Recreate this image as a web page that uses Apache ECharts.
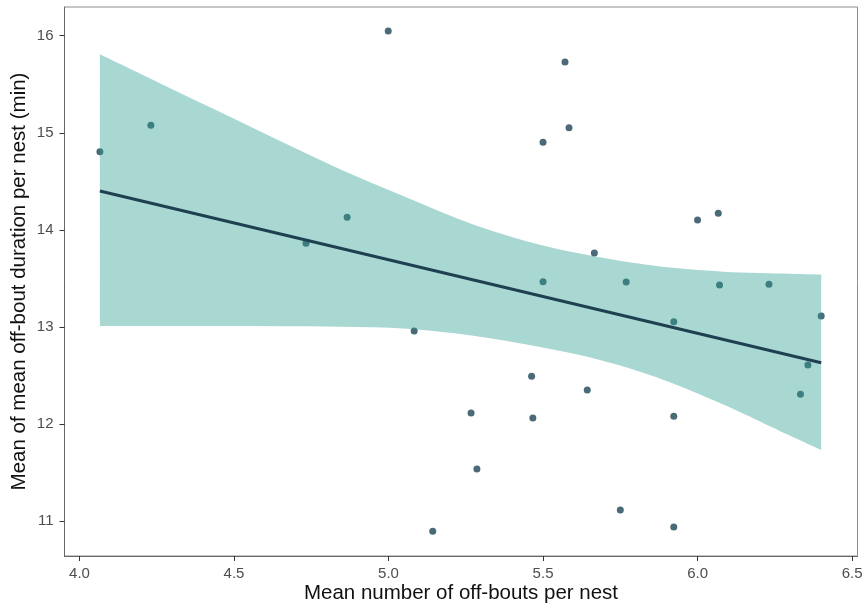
<!DOCTYPE html>
<html>
<head>
<meta charset="utf-8">
<script src="https://cdn.jsdelivr.net/npm/echarts@6/dist/echarts.min.js"></script>
<style>
  html, body { margin: 0; padding: 0; background: #fff; }
  #chart { width: 866px; height: 609px; }
</style>
</head>
<body>
<div id="chart"></div>
<script>
// nests: mean off-bouts vs mean off-bout duration
var boutsX = [4.066, 4.231, 4.733, 4.866, 4.999, 5.083, 5.143, 5.267, 5.286, 5.463,
              5.467, 5.500, 5.500, 5.571, 5.584, 5.643, 5.666, 5.750, 5.769, 5.923,
              5.923, 5.923, 6.000, 6.067, 6.071, 6.231, 6.333, 6.357, 6.400];
var durationY = [14.805, 15.077, 13.861, 14.129, 16.048, 12.958, 10.894, 12.113, 11.536, 12.491,
                 12.061, 14.902, 13.465, 15.729, 15.052, 12.350, 13.761, 11.113, 13.462, 13.053,
                 12.079, 10.938, 14.101, 14.170, 13.431, 13.439, 12.305, 12.607, 13.112];

// linear fit and its confidence band
var fitX = [4.066, 6.400];
var fitY = [14.400, 12.631];
var bandX = [4.066, 4.260, 4.455, 4.649, 4.843, 5.059, 5.274, 5.490, 5.684, 5.867, 6.083, 6.298, 6.400];
var bandUpper = [15.808, 15.511, 15.214, 14.914, 14.625, 14.334, 14.055, 13.845, 13.717, 13.627, 13.569, 13.548, 13.540];
var bandLower = [13.010, 13.010, 13.008, 13.006, 13.000, 12.980, 12.908, 12.792, 12.659, 12.480, 12.200, 11.880, 11.731];

var xTicks = [4.0, 4.5, 5.0, 5.5, 6.0, 6.5];
var yTicks = [11, 12, 13, 14, 15, 16];

var points = boutsX.map(function (x, i) { return [x, durationY[i]]; });
var fitData = fitX.map(function (x, i) { return [x, fitY[i]]; });

// smooth curve through pixel points (catmull-rom as cubic beziers)
function curvePath(pts, first) {
  var d = (first ? 'M' : 'L') + pts[0][0] + ' ' + pts[0][1];
  for (var i = 0; i < pts.length - 1; i++) {
    var p0 = pts[Math.max(i - 1, 0)], p1 = pts[i], p2 = pts[i + 1], p3 = pts[Math.min(i + 2, pts.length - 1)];
    var c1x = p1[0] + (p2[0] - p0[0]) / 6, c1y = p1[1] + (p2[1] - p0[1]) / 6;
    var c2x = p2[0] - (p3[0] - p1[0]) / 6, c2y = p2[1] - (p3[1] - p1[1]) / 6;
    d += ' C' + c1x + ' ' + c1y + ' ' + c2x + ' ' + c2y + ' ' + p2[0] + ' ' + p2[1];
  }
  return d;
}

var font = "'Liberation Sans', Arial, sans-serif";
var chart = echarts.init(document.getElementById('chart'));
var option = {
  animation: false,
  grid: {
    left: 64.5, right: 8.5, top: 7, bottom: 53,
    outerBoundsMode: 'none',
    show: true, borderColor: '#8c8c8c', borderWidth: 1
  },
  xAxis: {
    type: 'value',
    min: 3.9515, max: 6.5175,
    name: 'Mean number of off-bouts per nest',
    nameLocation: 'middle',
    nameGap: 27,
    nameMoveOverlap: false,
    nameTextStyle: { fontFamily: font, fontSize: 20.5, color: '#111' },
    splitLine: { show: false },
    axisLine: { show: true, lineStyle: { color: '#666', width: 1 } },
    axisTick: { show: true, length: 5, lineStyle: { color: '#333' }, customValues: xTicks },
    axisLabel: {
      fontFamily: font, fontSize: 15, color: '#4d4d4d', margin: 10,
      customValues: xTicks,
      formatter: function (v) { return v.toFixed(1); }
    }
  },
  yAxis: {
    type: 'value',
    min: 10.639, max: 16.296,
    name: 'Mean of mean off-bout duration per nest (min)',
    nameLocation: 'middle',
    nameGap: 35,
    nameMoveOverlap: false,
    nameTextStyle: { fontFamily: font, fontSize: 20.5, color: '#111' },
    splitLine: { show: false },
    axisLine: { show: true, lineStyle: { color: '#666', width: 1 } },
    axisTick: { show: true, length: 5, lineStyle: { color: '#333' }, customValues: yTicks },
    axisLabel: {
      fontFamily: font, fontSize: 15, color: '#4d4d4d', margin: 11,
      customValues: yTicks
    }
  },
  series: [
    {
      type: 'scatter',
      data: points,
      symbolSize: 7,
      itemStyle: { color: '#4b6a77', opacity: 1 },
      z: 1
    },
    {
      type: 'custom',
      data: [[bandX[0], bandUpper[0]]],
      renderItem: function (params, api) {
        var up = bandX.map(function (x, i) { return api.coord([x, bandUpper[i]]); });
        var lo = bandX.map(function (x, i) { return api.coord([x, bandLower[i]]); }).reverse();
        var d = curvePath(up, true) + ' ' + curvePath(lo, false) + ' Z';
        return {
          type: 'path',
          shape: { pathData: d },
          style: { fill: 'rgba(40,158,145,0.4)', stroke: 'none' }
        };
      },
      silent: true,
      z: 2
    },
    {
      type: 'line',
      data: fitData,
      symbol: 'none',
      lineStyle: { color: '#1f4050', width: 3 },
      z: 3
    }
  ]
};
chart.setOption(option);
</script>
</body>
</html>
